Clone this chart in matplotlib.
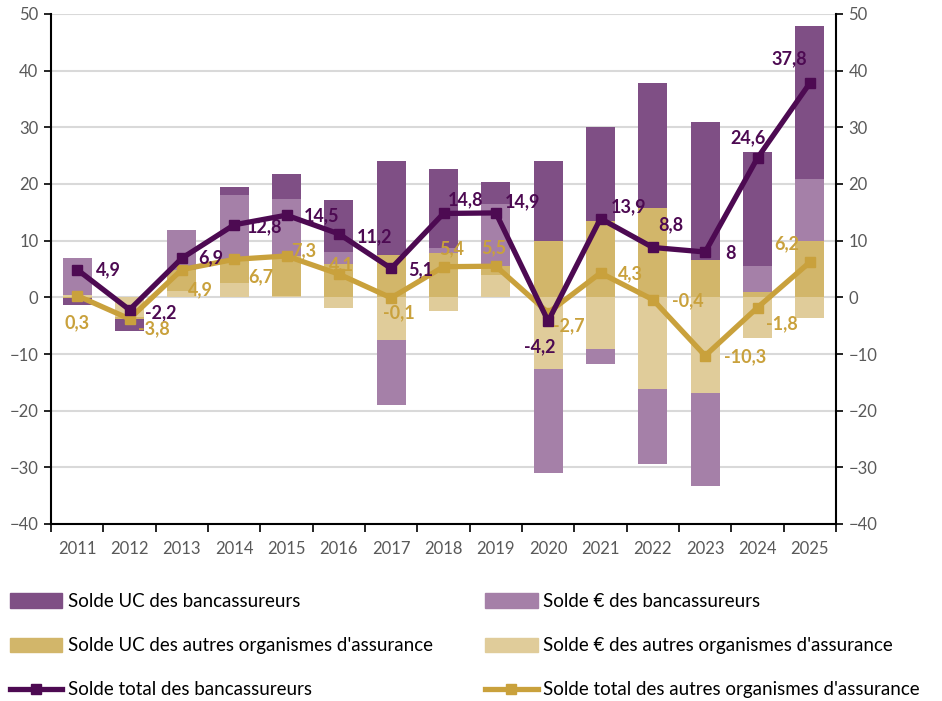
import matplotlib
matplotlib.use("Agg")
import matplotlib.pyplot as plt
from matplotlib.patches import Patch
from matplotlib.lines import Line2D
import numpy as np

plt.rcParams["font.family"] = ["Lato", "DejaVu Sans"]

# Data (Md EUR)
years = ["2011", "2012", "2013", "2014", "2015", "2016", "2017", "2018",
         "2019", "2020", "2021", "2022", "2023", "2024", "2025"]
uc_banc = [-1.3, -2.2, 0.0, 1.4, 4.5, 9.1, 16.5, 13.9, 3.9, 14.1, 16.5, 22.0, 24.4, 20.0, 27.1]
euro_banc = [6.6, 0.0, 6.9, 11.4, 10.0, 2.1, -11.4, 0.9, 11.0, -18.3, -2.6, -13.2, -16.4, 4.7, 10.8]
uc_autres = [-0.1, -0.4, 3.8, 4.1, 7.1, 5.9, 7.5, 7.8, 1.5, 10.0, 13.5, 15.8, 6.6, 0.9, 10.0]
euro_autres = [0.4, -3.4, 1.1, 2.6, 0.2, -1.8, -7.6, -2.4, 4.0, -12.7, -9.2, -16.2, -16.9, -7.2, -3.7]
total_banc = [4.9, -2.2, 6.9, 12.8, 14.5, 11.2, 5.1, 14.8, 14.9, -4.2, 13.9, 8.8, 8, 24.6, 37.8]
total_autres = [0.3, -3.8, 4.9, 6.7, 7.3, 4.1, -0.1, 5.4, 5.5, -2.7, 4.3, -0.4, -10.3, -1.8, 6.2]

# colours
c_uc_banc = "#7F4F85"
c_eur_banc = "#A580A8"
c_uc_aut = "#D2B66A"
c_eur_aut = "#E0CC9A"
c_line_banc = "#4D0A52"
c_line_aut = "#C9A13C"
grey = "#595959"

# label offsets in pixels (dx, dy), dy positive = up
off_banc = [(31, 0), (31, -3), (29, 0), (30, -2), (35, -1), (36, -3), (30, -1), (22, 14),
            (27, 11), (-8, -26), (28, 12), (18, 23), (25, -1), (-9, 20), (-21, 24)]
off_aut = [(0, -27), (24, -10), (19, -20), (27, -17), (17, 5), (3, 9), (8, -15), (8, 18),
           (-2, 18), (21, -13), (30, -1), (35, -1), (40, -1), (24, -16), (-23, 18)]

x = np.arange(len(years))

fig = plt.figure(figsize=(9.42, 7.01), dpi=100)
ax = fig.add_axes([51 / 942, 1 - 524 / 701, 785 / 942, 510 / 701])

# stacked bars, positives up and negatives down, in Excel series order
series = [(euro_autres, c_eur_aut), (uc_autres, c_uc_aut),
          (euro_banc, c_eur_banc), (uc_banc, c_uc_banc)]
pos = np.zeros(len(years))
neg = np.zeros(len(years))
for vals, col in series:
    v = np.array(vals)
    bottom = np.where(v >= 0, pos, neg)
    ax.bar(x, v, 0.55, bottom=bottom, color=col, zorder=2, linewidth=0)
    pos = pos + np.where(v >= 0, v, 0)
    neg = neg + np.where(v < 0, v, 0)

ax.plot(x, total_banc, color=c_line_banc, lw=3.8, marker="s", ms=7.5, zorder=4)
ax.plot(x, total_autres, color=c_line_aut, lw=3.8, marker="s", ms=7.5, zorder=3)


def fmt(v):
    return f"{v:g}".replace(".", ",")


for i in range(len(years)):
    ax.annotate(fmt(total_banc[i]), (x[i], total_banc[i]), xytext=off_banc[i],
                textcoords="offset pixels", ha="center", va="center",
                color=c_line_banc, fontsize=13, fontweight="bold", zorder=5)
    ax.annotate(fmt(total_autres[i]), (x[i], total_autres[i]), xytext=off_aut[i],
                textcoords="offset pixels", ha="center", va="center",
                color=c_line_aut, fontsize=13, fontweight="bold", zorder=5)

ax.set_xlim(-0.5, len(years) - 0.5)
ax.set_ylim(-40, 50)
ax.set_yticks(np.arange(-40, 51, 10))
ax.set_xticks(x)
ax.set_xticklabels(years)
ax.set_xticks(np.arange(-0.5, len(years), 1), minor=True)
ax.tick_params(axis="x", which="major", length=0, pad=12, labelsize=12, labelcolor=grey)
ax.tick_params(axis="x", which="minor", length=6, width=1.2, direction="out")
ax.tick_params(axis="y", length=5, width=1.2, direction="out", labelsize=12,
               labelcolor=grey, right=True, labelright=True, pad=4)
ax.grid(axis="y", color="#D9D9D9", lw=1.5, zorder=0)
ax.set_axisbelow(True)
ax.spines["top"].set_visible(False)
for s in ["left", "right", "bottom"]:
    ax.spines[s].set_linewidth(1.5)
    ax.spines[s].set_zorder(6)

h1 = [Patch(color=c_uc_banc), Patch(color=c_uc_aut),
      Line2D([], [], color=c_line_banc, lw=3.8, marker="s", ms=7.5)]
l1 = ["Solde UC des bancassureurs", "Solde UC des autres organismes d'assurance",
      "Solde total des bancassureurs"]
h2 = [Patch(color=c_eur_banc), Patch(color=c_eur_aut),
      Line2D([], [], color=c_line_aut, lw=3.8, marker="s", ms=7.5)]
l2 = ["Solde € des bancassureurs", "Solde € des autres organismes d'assurance",
      "Solde total des autres organismes d'assurance"]

common = dict(loc="upper left", frameon=False, fontsize=13.5, handlelength=2.8,
              handleheight=0.8, handletextpad=0.3, labelspacing=1.45,
              borderpad=0, borderaxespad=0)
fig.legend(h1, l1, bbox_to_anchor=(10 / 942, 1 - 593 / 701), **common)
fig.legend(h2, l2, bbox_to_anchor=(485 / 942, 1 - 593 / 701), **common)

fig.savefig("out.png", dpi=100)
